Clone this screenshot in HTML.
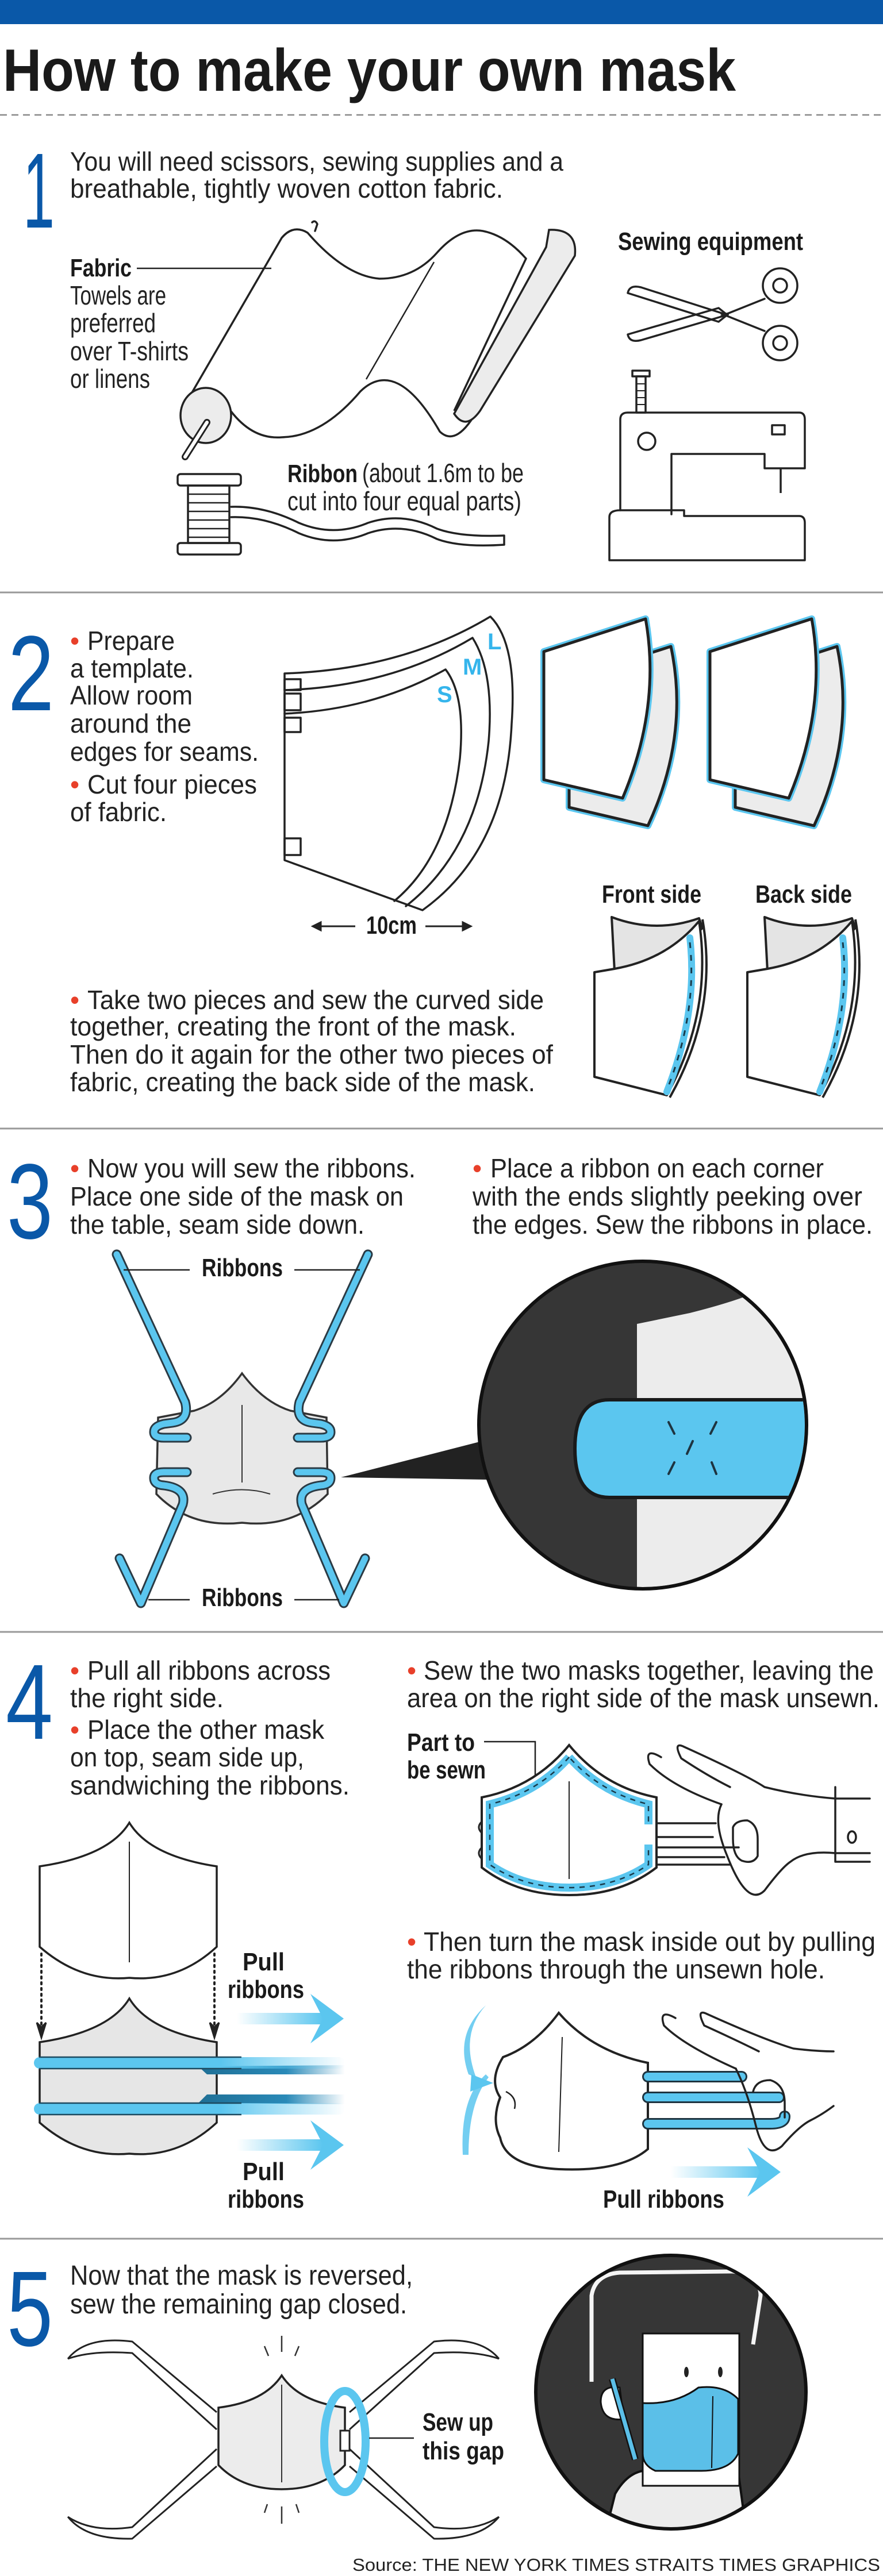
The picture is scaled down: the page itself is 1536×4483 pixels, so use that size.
<!DOCTYPE html>
<html><head><meta charset="utf-8">
<style>
html,body{margin:0;padding:0;background:#fff;}
svg{display:block;}
text{font-family:"Liberation Sans Narrow","Liberation Sans",sans-serif;fill:#222;}
.b{font-size:46px;}
.bd{font-size:44px;font-weight:bold;fill:#1a1a1a;}
.num{font-size:186px;fill:#0a58a8;font-weight:normal;}
.r{fill:#e8402a;}
.ol{fill:none;stroke:#222;stroke-width:3.5;stroke-linejoin:round;stroke-linecap:round;}
</style></head>
<body>
<svg width="1536" height="4483" viewBox="0 0 1536 4483" xmlns="http://www.w3.org/2000/svg">
<defs>
<linearGradient id="fade" x1="0" x2="1" y1="0" y2="0">
<stop offset="0" stop-color="#5bc6ef"/><stop offset="0.6" stop-color="#5bc6ef"/><stop offset="1" stop-color="#5bc6ef" stop-opacity="0"/></linearGradient>
<linearGradient id="fadeD" x1="0" x2="1" y1="0" y2="0">
<stop offset="0" stop-color="#1f6f95"/><stop offset="0.6" stop-color="#2a8ab8"/><stop offset="1" stop-color="#2a8ab8" stop-opacity="0"/></linearGradient>
<linearGradient id="arr" x1="0" x2="1" y1="0" y2="0">
<stop offset="0" stop-color="#5bc6ef" stop-opacity="0"/><stop offset="1" stop-color="#5bc6ef"/></linearGradient>
</defs>

<!-- header -->
<rect x="0" y="0" width="1536" height="42" fill="#0a58a8"/>
<text x="5" y="158" style="font-size:104px;font-weight:bold;fill:#1a1a1a" textLength="1275" lengthAdjust="spacingAndGlyphs">How to make your own mask</text>
<line x1="0" y1="200" x2="1536" y2="200" stroke="#888" stroke-width="2.5" stroke-dasharray="12 8"/>

<!-- SECTION 1 -->
<text class="num" x="40" y="396" textLength="55" lengthAdjust="spacingAndGlyphs">1</text>
<text class="b" x="122" y="297" textLength="858" lengthAdjust="spacingAndGlyphs">You will need scissors, sewing supplies and a</text>
<text class="b" x="122" y="344" textLength="753" lengthAdjust="spacingAndGlyphs">breathable, tightly woven cotton fabric.</text>
<text class="bd" x="122" y="481" textLength="107" lengthAdjust="spacingAndGlyphs">Fabric</text>
<line x1="238" y1="467" x2="472" y2="467" stroke="#222" stroke-width="2.5"/>
<text class="b" x="122" y="530" textLength="167" lengthAdjust="spacingAndGlyphs">Towels are</text>
<text class="b" x="122" y="578" textLength="149" lengthAdjust="spacingAndGlyphs">preferred</text>
<text class="b" x="122" y="627" textLength="206" lengthAdjust="spacingAndGlyphs">over T-shirts</text>
<text class="b" x="122" y="675" textLength="139" lengthAdjust="spacingAndGlyphs">or linens</text>
<!-- fabric roll -->
<path class="ol" d="M323,702 L490,414 Q510,390 535,405 Q600,480 660,485 Q720,485 760,440 Q800,395 840,402 Q880,410 915,450"/>
<path class="ol" d="M402,716 Q440,765 490,761 Q560,760 627,681 Q690,620 765,751 Q795,780 833,709"/>
<path d="M955,400 Q1005,398 1000,445 L835,715 Q810,750 790,720 L950,430 Z" fill="#ececec" stroke="#222" stroke-width="3.5"/>
<line x1="915" y1="450" x2="790" y2="715" stroke="#222" stroke-width="3.5"/>
<line x1="755" y1="456" x2="637" y2="660" stroke="#222" stroke-width="2.5"/>
<ellipse cx="358" cy="723" rx="44" ry="48" fill="#ececec" stroke="#222" stroke-width="3.5"/>
<line x1="360" y1="735" x2="322" y2="795" stroke="#222" stroke-width="12" stroke-linecap="round"/>
<line x1="360" y1="735" x2="322" y2="795" stroke="#fff" stroke-width="6" stroke-linecap="round"/>
<path d="M543,387 Q548,382 552,390 L548,402" class="ol"/>
<!-- spool -->
<rect x="309" y="825" width="110" height="20" rx="5" class="ol" fill="#fff"/>
<rect x="309" y="945" width="110" height="20" rx="5" class="ol" fill="#fff"/>
<rect x="327" y="845" width="72" height="100" class="ol"/>
<g stroke="#222" stroke-width="2.5"><line x1="327" y1="860" x2="399" y2="860"/><line x1="327" y1="875" x2="399" y2="875"/><line x1="327" y1="890" x2="399" y2="890"/><line x1="327" y1="905" x2="399" y2="905"/><line x1="327" y1="920" x2="399" y2="920"/><line x1="327" y1="935" x2="399" y2="935"/></g>
<path class="ol" d="M402,882 Q460,880 520,910 Q580,935 640,910 Q700,890 760,920 Q800,935 877,932"/>
<path class="ol" d="M402,900 Q460,898 520,928 Q580,953 640,928 Q700,908 760,938 Q800,953 877,948"/>
<line x1="877" y1="932" x2="877" y2="948" stroke="#222" stroke-width="3.5"/>
<text class="bd" x="500" y="839"><tspan textLength="122" lengthAdjust="spacingAndGlyphs">Ribbon</tspan></text>
<text class="b" x="630" y="839" textLength="281" lengthAdjust="spacingAndGlyphs">(about 1.6m to be</text>
<text class="b" x="500" y="888" textLength="407" lengthAdjust="spacingAndGlyphs">cut into four equal parts)</text>
<!-- sewing equipment -->
<text class="bd" x="1075" y="435" textLength="322" lengthAdjust="spacingAndGlyphs">Sewing equipment</text>
<path class="ol" d="M1092,510 Q1095,495 1115,500 L1265,548 L1250,560 Z" fill="#fff"/>
<path class="ol" d="M1092,582 Q1095,597 1115,592 L1265,548 L1250,536 Z" fill="#fff"/>
<path class="ol" d="M1255,550 L1330,520 M1255,546 L1330,576"/>
<circle cx="1357" cy="497" r="30" class="ol" fill="#fff"/><circle cx="1357" cy="497" r="12" class="ol"/>
<circle cx="1357" cy="597" r="30" class="ol" fill="#fff"/><circle cx="1357" cy="597" r="12" class="ol"/>
<circle cx="1265" cy="547" r="3" fill="#222"/>
<rect x="1100" y="645" width="30" height="10" class="ol"/>
<rect x="1107" y="655" width="16" height="63" class="ol"/>
<g stroke="#222" stroke-width="2"><line x1="1107" y1="668" x2="1123" y2="668"/><line x1="1107" y1="680" x2="1123" y2="680"/><line x1="1107" y1="692" x2="1123" y2="692"/><line x1="1107" y1="704" x2="1123" y2="704"/></g>
<path class="ol" d="M1079,888 L1079,730 Q1079,718 1092,718 L1390,718 Q1400,718 1400,730 L1400,815 L1330,815 L1330,790 L1168,790 L1168,895"/>
<path class="ol" d="M1060,975 L1060,900 Q1060,888 1079,888 L1190,888 L1190,898 L1390,898 Q1400,898 1400,910 L1400,975 Z"/>
<circle cx="1125" cy="768" r="15" class="ol"/>
<rect x="1343" y="740" width="22" height="16" class="ol"/>
<line x1="1358" y1="815" x2="1358" y2="858" stroke="#222" stroke-width="3.5"/>

<line x1="0" y1="1031" x2="1536" y2="1031" stroke="#999" stroke-width="3"/>

<!-- SECTION 2 -->
<text class="num" x="14" y="1236" textLength="80" lengthAdjust="spacingAndGlyphs">2</text>
<text class="b" x="122" y="1131"><tspan class="r">•</tspan></text>
<text class="b" x="152" y="1131" textLength="152" lengthAdjust="spacingAndGlyphs">Prepare</text>
<text class="b" x="122" y="1179" textLength="215" lengthAdjust="spacingAndGlyphs">a template.</text>
<text class="b" x="122" y="1226" textLength="213" lengthAdjust="spacingAndGlyphs">Allow room</text>
<text class="b" x="122" y="1275" textLength="211" lengthAdjust="spacingAndGlyphs">around the</text>
<text class="b" x="122" y="1324" textLength="328" lengthAdjust="spacingAndGlyphs">edges for seams.</text>
<text class="b" x="122" y="1381"><tspan class="r">•</tspan></text>
<text class="b" x="152" y="1381" textLength="295" lengthAdjust="spacingAndGlyphs">Cut four pieces</text>
<text class="b" x="122" y="1429" textLength="168" lengthAdjust="spacingAndGlyphs">of fabric.</text>
<!-- template -->
<path class="ol" d="M495,1172 Q700,1165 853,1073 Q900,1120 890,1260 Q880,1480 735,1584 L495,1497 Z" fill="#fff"/>
<path class="ol" d="M495,1201 Q680,1195 822,1110 Q860,1170 850,1290 Q830,1480 706,1577"/>
<path class="ol" d="M495,1242 Q650,1235 775,1165 Q810,1210 800,1320 Q780,1490 686,1568"/>
<rect x="495" y="1182" width="28" height="19" class="ol"/>
<rect x="495" y="1207" width="28" height="29" class="ol"/>
<rect x="495" y="1249" width="28" height="25" class="ol"/>
<rect x="495" y="1459" width="28" height="29" class="ol"/>
<text x="848" y="1130" style="font-size:40px;font-weight:bold;fill:#35b5ec">L</text>
<text x="805" y="1174" style="font-size:40px;font-weight:bold;fill:#35b5ec">M</text>
<text x="760" y="1222" style="font-size:40px;font-weight:bold;fill:#35b5ec">S</text>
<text class="bd" x="637" y="1625" textLength="88" lengthAdjust="spacingAndGlyphs">10cm</text>
<g stroke="#222" stroke-width="3" fill="#222">
<line x1="550" y1="1612" x2="618" y2="1612"/><path d="M544,1612 L558,1605 L558,1619 Z"/>
<line x1="740" y1="1612" x2="812" y2="1612"/><path d="M819,1612 L805,1605 L805,1619 Z"/>
</g>
<!-- four pieces -->
<g id="pair">
<path d="M990,1182 L1167,1125 Q1200,1280 1127,1437 L990,1405 Z" fill="#ececec" stroke="#5bc6ef" stroke-width="12" stroke-linejoin="round"/>
<path d="M990,1182 L1167,1125 Q1200,1280 1127,1437 L990,1405 Z" fill="#ececec" stroke="#222" stroke-width="5" stroke-linejoin="round"/>
<path d="M946,1134 L1123,1077 Q1150,1230 1083,1389 L946,1357 Z" fill="#fff" stroke="#5bc6ef" stroke-width="12" stroke-linejoin="round"/>
<path d="M946,1134 L1123,1077 Q1150,1230 1083,1389 L946,1357 Z" fill="#fff" stroke="#222" stroke-width="5" stroke-linejoin="round"/>
</g>
<use href="#pair" x="289" y="0"/>
<text class="bd" x="1047" y="1571" textLength="173" lengthAdjust="spacingAndGlyphs">Front side</text>
<text class="bd" x="1314" y="1571" textLength="168" lengthAdjust="spacingAndGlyphs">Back side</text>
<g id="fs">
<path d="M1064,1596 Q1140,1625 1216,1598 L1222,1615 Q1150,1680 1069,1690 Z" fill="#e4e4e4" stroke="#222" stroke-width="4" stroke-linejoin="round"/>
<path d="M1034,1692 L1069,1686 Q1160,1670 1216,1603 Q1240,1760 1160,1906 L1034,1874 Z" fill="#fff" stroke="#222" stroke-width="4" stroke-linejoin="round"/>
<path d="M1200,1632 Q1215,1760 1160,1900" fill="none" stroke="#5bc6ef" stroke-width="12" stroke-linecap="round"/>
<path d="M1200,1640 Q1213,1760 1162,1892" fill="none" stroke="#1a3a4a" stroke-width="3" stroke-dasharray="10 12"/>
<path d="M1222,1600 Q1250,1760 1165,1910" fill="none" stroke="#222" stroke-width="4"/>
</g>
<use href="#fs" x="266" y="0"/>
<text class="b" x="122" y="1756"><tspan class="r">•</tspan></text>
<text class="b" x="152" y="1756" textLength="794" lengthAdjust="spacingAndGlyphs">Take two pieces and sew the curved side</text>
<text class="b" x="122" y="1802" textLength="776" lengthAdjust="spacingAndGlyphs">together, creating the front of the mask.</text>
<text class="b" x="122" y="1851" textLength="840" lengthAdjust="spacingAndGlyphs">Then do it again for the other two pieces of</text>
<text class="b" x="122" y="1899" textLength="809" lengthAdjust="spacingAndGlyphs">fabric, creating the back side of the mask.</text>

<line x1="0" y1="1964" x2="1536" y2="1964" stroke="#999" stroke-width="3"/>

<!-- SECTION 3 -->
<text class="num" x="12" y="2155" textLength="80" lengthAdjust="spacingAndGlyphs">3</text>
<text class="b" x="122" y="2049"><tspan class="r">•</tspan></text>
<text class="b" x="152" y="2049" textLength="571" lengthAdjust="spacingAndGlyphs">Now you will sew the ribbons.</text>
<text class="b" x="122" y="2098" textLength="580" lengthAdjust="spacingAndGlyphs">Place one side of the mask on</text>
<text class="b" x="122" y="2147" textLength="512" lengthAdjust="spacingAndGlyphs">the table, seam side down.</text>
<text class="b" x="822" y="2049"><tspan class="r">•</tspan></text>
<text class="b" x="853" y="2049" textLength="580" lengthAdjust="spacingAndGlyphs">Place a ribbon on each corner</text>
<text class="b" x="822" y="2098" textLength="678" lengthAdjust="spacingAndGlyphs">with the ends slightly peeking over</text>
<text class="b" x="822" y="2147" textLength="696" lengthAdjust="spacingAndGlyphs">the edges. Sew the ribbons in place.</text>
<!-- mask -->
<path d="M421,2390 Q385,2440 338,2455 L275,2467 L272,2600 Q330,2660 421,2650 Q510,2660 570,2600 L568,2467 L505,2455 Q458,2440 421,2390 Z" fill="#e8e8e8" stroke="#333" stroke-width="3.5"/>
<line x1="421" y1="2445" x2="421" y2="2580" stroke="#333" stroke-width="2"/>
<path d="M370,2600 Q421,2585 470,2600" fill="none" stroke="#333" stroke-width="2"/>
<g id="rb" fill="none" stroke-linecap="round" stroke-linejoin="round">
<path d="M203,2183 L322,2440 Q330,2472 300,2476 L285,2478 Q268,2482 268,2492 Q268,2502 285,2502 L325,2502 M325,2562 L285,2562 Q268,2562 268,2572 Q268,2584 285,2585 Q325,2590 318,2618 L245,2790 L208,2712" stroke="#2a3a44" stroke-width="17"/>
<path d="M203,2183 L322,2440 Q330,2472 300,2476 L285,2478 Q268,2482 268,2492 Q268,2502 285,2502 L325,2502 M325,2562 L285,2562 Q268,2562 268,2572 Q268,2584 285,2585 Q325,2590 318,2618 L245,2790 L208,2712" stroke="#5bc6ef" stroke-width="11"/>
</g>
<use href="#rb" transform="translate(843,0) scale(-1,1)"/>
<text class="bd" x="351" y="2221" textLength="141" lengthAdjust="spacingAndGlyphs">Ribbons</text>
<text class="bd" x="351" y="2795" textLength="141" lengthAdjust="spacingAndGlyphs">Ribbons</text>
<g stroke="#222" stroke-width="2.5"><line x1="215" y1="2210" x2="330" y2="2210"/><line x1="512" y1="2210" x2="626" y2="2210"/><line x1="258" y1="2784" x2="330" y2="2784"/><line x1="512" y1="2784" x2="590" y2="2784"/></g>
<!-- zoom circle -->
<path d="M593,2571 L850,2505 L850,2575 Z" fill="#222"/>
<circle cx="1118" cy="2480" r="285" fill="#363636" stroke="#111" stroke-width="5"/>
<clipPath id="cc"><circle cx="1118" cy="2480" r="282"/></clipPath>
<g clip-path="url(#cc)">
<path d="M1108,2304 L1200,2285 Q1260,2270 1300,2255 L1420,2220 L1420,2780 L1108,2780 Z" fill="#ececec"/>
<path d="M1060,2436 L1420,2436 L1420,2606 L1060,2606 Q1000,2606 1000,2521 Q1000,2436 1060,2436 Z" fill="#5bc6ef" stroke="#1a1a1a" stroke-width="6"/>
<g stroke="#1e3440" stroke-width="4" stroke-linecap="round"><line x1="1163" y1="2475" x2="1173" y2="2495"/><line x1="1246" y1="2475" x2="1236" y2="2495"/><line x1="1205" y1="2508" x2="1195" y2="2530"/><line x1="1163" y1="2565" x2="1173" y2="2545"/><line x1="1238" y1="2545" x2="1246" y2="2565"/></g>
</g>
<circle cx="1118" cy="2480" r="285" fill="none" stroke="#111" stroke-width="6"/>

<line x1="0" y1="2840" x2="1536" y2="2840" stroke="#999" stroke-width="3"/>

<!-- SECTION 4 -->
<text class="num" x="10" y="3026" textLength="82" lengthAdjust="spacingAndGlyphs">4</text>
<text class="b" x="122" y="2923"><tspan class="r">•</tspan></text>
<text class="b" x="152" y="2923" textLength="423" lengthAdjust="spacingAndGlyphs">Pull all ribbons across</text>
<text class="b" x="122" y="2971" textLength="267" lengthAdjust="spacingAndGlyphs">the right side.</text>
<text class="b" x="122" y="3026"><tspan class="r">•</tspan></text>
<text class="b" x="152" y="3026" textLength="412" lengthAdjust="spacingAndGlyphs">Place the other mask</text>
<text class="b" x="122" y="3074" textLength="407" lengthAdjust="spacingAndGlyphs">on top, seam side up,</text>
<text class="b" x="122" y="3123" textLength="486" lengthAdjust="spacingAndGlyphs">sandwiching the ribbons.</text>
<text class="b" x="708" y="2923"><tspan class="r">•</tspan></text>
<text class="b" x="737" y="2923" textLength="783" lengthAdjust="spacingAndGlyphs">Sew the two masks together, leaving the</text>
<text class="b" x="708" y="2971" textLength="822" lengthAdjust="spacingAndGlyphs">area on the right side of the mask unsewn.</text>
<!-- left masks -->
<path d="M225,3172 Q190,3230 69,3248 L69,3388 Q140,3450 225,3442 Q310,3450 377,3388 L377,3248 Q260,3230 225,3172 Z" fill="#fff" stroke="#222" stroke-width="3.5"/>
<line x1="225" y1="3205" x2="225" y2="3415" stroke="#222" stroke-width="2"/>
<path d="M225,3478 Q190,3536 69,3554 L69,3694 Q140,3756 225,3748 Q310,3756 377,3694 L377,3554 Q260,3536 225,3478 Z" fill="#e6e6e6" stroke="#222" stroke-width="3.5"/>
<g stroke="#222" stroke-width="4" stroke-dasharray="3 7" stroke-linecap="round"><line x1="72" y1="3400" x2="72" y2="3525"/><line x1="373" y1="3400" x2="373" y2="3525"/></g>
<path d="M64,3520 L72,3546 L80,3520 L72,3528 Z M365,3520 L373,3546 L381,3520 L373,3528 Z" fill="#222" stroke="#222" stroke-width="3"/>
<path d="M345,3596 L360,3610 L600,3610 L600,3594 Z" fill="url(#fadeD)"/>
<path d="M345,3660 L360,3645 L600,3645 L600,3662 Z" fill="url(#fadeD)"/>
<rect x="59" y="3580" width="541" height="20" rx="10" fill="url(#fade)"/>
<rect x="59" y="3660" width="541" height="20" rx="10" fill="url(#fade)"/>
<path d="M68,3580 L420,3580 M68,3600 L420,3600 M68,3660 L420,3660 M68,3680 L420,3680" stroke="#1d4a60" stroke-width="2.5"/>
<g id="pa"><rect x="412" y="3503" width="150" height="20" fill="url(#arr)"/><path d="M540,3470 L598,3513 L540,3556 L562,3513 Z" fill="#5bc6ef"/></g>
<use href="#pa" y="220"/>
<text class="bd" x="422" y="3429" textLength="73" lengthAdjust="spacingAndGlyphs">Pull</text>
<text class="bd" x="396" y="3477" textLength="133" lengthAdjust="spacingAndGlyphs">ribbons</text>
<text class="bd" x="422" y="3794" textLength="73" lengthAdjust="spacingAndGlyphs">Pull</text>
<text class="bd" x="396" y="3842" textLength="133" lengthAdjust="spacingAndGlyphs">ribbons</text>
<!-- sewn mask -->
<text class="bd" x="708" y="3047" textLength="118" lengthAdjust="spacingAndGlyphs">Part to</text>
<text class="bd" x="708" y="3095" textLength="137" lengthAdjust="spacingAndGlyphs">be sewn</text>
<path d="M842,3031 L931,3031 L931,3098" fill="none" stroke="#222" stroke-width="2.5"/>
<path d="M990,3037 Q930,3110 838,3128 L838,3250 Q900,3298 990,3298 Q1080,3298 1142,3250 L1142,3128 Q1050,3110 990,3037 Z" fill="#fff" stroke="#222" stroke-width="4"/>
<path d="M990,3058 Q935,3120 852,3140 L852,3245 Q910,3285 990,3285 Q1070,3285 1128,3245 L1128,3210 M1128,3175 L1128,3140 Q1045,3120 990,3058" fill="none" stroke="#5bc6ef" stroke-width="14"/>
<path d="M990,3058 Q935,3120 852,3140 L852,3245 Q910,3285 990,3285 Q1070,3285 1128,3245 L1128,3215 M1128,3170 L1128,3140 Q1045,3120 990,3058" fill="none" stroke="#1a3a4a" stroke-width="2.5" stroke-dasharray="9 9"/>
<line x1="990" y1="3100" x2="990" y2="3270" stroke="#222" stroke-width="2"/>
<path d="M838,3170 Q828,3180 838,3190 M838,3215 Q828,3225 838,3235" fill="none" stroke="#222" stroke-width="3"/>
<g stroke="#222" stroke-width="3.5" fill="none" stroke-linejoin="round" stroke-linecap="round">
<line x1="1142" y1="3173" x2="1245" y2="3173"/><line x1="1142" y1="3197" x2="1240" y2="3197"/><line x1="1142" y1="3215" x2="1285" y2="3215"/><line x1="1142" y1="3232" x2="1260" y2="3232"/><line x1="1142" y1="3245" x2="1270" y2="3245"/>
<path d="M1150,3058 Q1120,3040 1130,3070 Q1170,3110 1255,3140 M1190,3040 Q1170,3030 1185,3060 Q1230,3090 1270,3110 M1190,3040 Q1300,3090 1330,3110 Q1390,3125 1453,3130 L1513,3130"/>
<path d="M1255,3140 Q1240,3170 1265,3230 Q1300,3320 1330,3290 Q1360,3250 1375,3240 Q1400,3220 1453,3225 L1513,3225"/>
<path d="M1275,3180 Q1280,3168 1300,3168 Q1318,3175 1318,3200 L1318,3230 Q1310,3245 1290,3238 Q1275,3230 1275,3200 Z"/>
<path d="M1453,3110 L1453,3240 L1513,3240"/>
<ellipse cx="1482" cy="3197" rx="7" ry="10"/>
</g>
<!-- turn mask -->
<text class="b" x="708" y="3395"><tspan class="r">•</tspan></text>
<text class="b" x="737" y="3395" textLength="786" lengthAdjust="spacingAndGlyphs">Then turn the mask inside out by pulling</text>
<text class="b" x="708" y="3443" textLength="727" lengthAdjust="spacingAndGlyphs">the ribbons through the unsewn hole.</text>
<path d="M972,3503 Q930,3560 875,3580 Q850,3620 870,3650 Q855,3690 870,3720 Q880,3770 972,3775 Q1080,3780 1127,3740 L1127,3590 Q1030,3570 972,3503 Z" fill="#fff" stroke="#222" stroke-width="4"/>
<path d="M880,3640 Q900,3650 895,3670" fill="none" stroke="#222" stroke-width="2.5"/>
<line x1="978" y1="3545" x2="972" y2="3745" stroke="#222" stroke-width="2"/>
<g fill="none" stroke-linecap="round">
<path d="M1127,3614 L1290,3614 M1127,3650 L1355,3650 M1127,3696 L1340,3696 Q1365,3696 1365,3683" stroke="#1e3440" stroke-width="20"/>
<path d="M1127,3614 L1290,3614 M1127,3650 L1355,3650 M1127,3696 L1340,3696 Q1365,3696 1365,3683" stroke="#5bc6ef" stroke-width="14"/>
</g>
<g stroke="#222" stroke-width="3.5" fill="none" stroke-linejoin="round" stroke-linecap="round">
<path d="M1175,3512 Q1145,3495 1155,3525 Q1190,3560 1280,3600 M1230,3505 Q1210,3495 1225,3525 Q1280,3550 1320,3570 M1230,3505 Q1330,3550 1380,3565 Q1420,3570 1450,3570"/>
<path d="M1280,3600 Q1300,3640 1315,3700 Q1330,3760 1360,3735 Q1390,3700 1410,3690 Q1430,3680 1450,3665"/>
<path d="M1310,3640 Q1315,3620 1340,3620 Q1365,3628 1365,3660 L1365,3685"/>
</g>
<path d="M845,3490 Q800,3540 828,3615 L815,3610 Q790,3540 845,3490 Z M845,3610 Q800,3650 805,3750 L815,3750 Q815,3660 850,3615 Z" fill="#5bc6ef" opacity="0.85"/>
<path d="M820,3610 L858,3625 L818,3640 Z M820,3600 L860,3620" fill="#5bc6ef"/>
<rect x="1167" y="3770" width="160" height="20" fill="url(#arr)"/><path d="M1300,3737 L1358,3780 L1300,3823 L1322,3780 Z" fill="#5bc6ef"/>
<text class="bd" x="1049" y="3842" textLength="211" lengthAdjust="spacingAndGlyphs">Pull ribbons</text>

<line x1="0" y1="3896" x2="1536" y2="3896" stroke="#999" stroke-width="3"/>

<!-- SECTION 5 -->
<text class="num" x="12" y="4082" textLength="80" lengthAdjust="spacingAndGlyphs">5</text>
<text class="b" x="122" y="3976" style="font-size:48px" textLength="596" lengthAdjust="spacingAndGlyphs">Now that the mask is reversed,</text>
<text class="b" x="122" y="4026" style="font-size:48px" textLength="586" lengthAdjust="spacingAndGlyphs">sew the remaining gap closed.</text>
<g fill="none" stroke-linejoin="round">
<path d="M377,4198 L230,4075 Q150,4065 118,4105 M377,4228 L230,4095 Q160,4090 118,4105" stroke="#222" stroke-width="3"/>
<path d="M377,4262 L230,4398 Q160,4408 118,4380 M377,4292 L230,4418 Q150,4420 118,4380" stroke="#222" stroke-width="3"/>
<path d="M608,4198 L755,4075 Q835,4065 868,4105 M608,4228 L755,4095 Q825,4090 868,4105" stroke="#222" stroke-width="3"/>
<path d="M608,4262 L755,4398 Q825,4408 868,4380 M608,4292 L755,4418 Q835,4420 868,4380" stroke="#222" stroke-width="3"/>
</g>
<path d="M490,4134 Q460,4180 380,4190 L380,4290 Q420,4332 490,4332 Q560,4332 600,4290 L600,4190 Q520,4180 490,4134 Z" fill="#ececec" stroke="#222" stroke-width="3.5"/>
<line x1="490" y1="4150" x2="490" y2="4320" stroke="#333" stroke-width="2"/>
<rect x="592" y="4230" width="16" height="35" fill="#fff" stroke="#222" stroke-width="3"/>
<ellipse cx="600" cy="4249" rx="36" ry="88" fill="none" stroke="#5bc6ef" stroke-width="14"/>
<g stroke="#333" stroke-width="2.5"><line x1="490" y1="4065" x2="490" y2="4093"/><line x1="460" y1="4083" x2="467" y2="4100"/><line x1="520" y1="4083" x2="513" y2="4100"/><line x1="490" y1="4362" x2="490" y2="4392"/><line x1="460" y1="4373" x2="465" y2="4358"/><line x1="520" y1="4373" x2="515" y2="4358"/></g>
<line x1="642" y1="4243" x2="720" y2="4243" stroke="#222" stroke-width="2.5"/>
<text class="bd" x="735" y="4230" textLength="123" lengthAdjust="spacingAndGlyphs">Sew up</text>
<text class="bd" x="735" y="4280" textLength="142" lengthAdjust="spacingAndGlyphs">this gap</text>
<!-- portrait -->
<clipPath id="pc"><ellipse cx="1167" cy="4163" rx="233" ry="236"/></clipPath>
<ellipse cx="1167" cy="4163" rx="235" ry="238" fill="#363636"/>
<g clip-path="url(#pc)">
<path d="M1029,4145 L1029,3995 Q1035,3958 1078,3955 L1275,3953 Q1323,3960 1323,3995 L1310,4080" fill="none" stroke="#f5f5f5" stroke-width="7"/>
<path d="M1050,4420 L1070,4340 Q1090,4305 1118,4300 L1284,4300 L1300,4420 Z" fill="#ececec" stroke="#111" stroke-width="4"/>
<rect x="1118" y="4061" width="168" height="265" fill="#fff" stroke="#111" stroke-width="3"/>
<path d="M1078,4155 Q1045,4150 1045,4180 Q1048,4215 1085,4210 Z" fill="#fff" stroke="#111" stroke-width="3"/>
<ellipse cx="1194" cy="4128" rx="4" ry="9" fill="#222"/><ellipse cx="1253" cy="4128" rx="4" ry="9" fill="#222"/>
<path d="M1118,4182 Q1175,4185 1215,4155 Q1260,4150 1284,4175 L1284,4270 Q1270,4300 1220,4300 L1140,4300 Q1118,4290 1118,4270 Z" fill="#5bbfe8" stroke="#111" stroke-width="3"/>
<path d="M1065,4140 L1105,4280" stroke="#111" stroke-width="12"/><path d="M1065,4140 L1105,4280" stroke="#5bbfe8" stroke-width="7"/>
<line x1="1240" y1="4170" x2="1238" y2="4295" stroke="#111" stroke-width="2"/>
</g>
<ellipse cx="1167" cy="4163" rx="235" ry="238" fill="none" stroke="#111" stroke-width="6"/>
<text x="613" y="4474" style="font-size:31px" textLength="918" lengthAdjust="spacingAndGlyphs">Source: THE NEW YORK TIMES   STRAITS TIMES GRAPHICS</text>
</svg>
</body></html>
